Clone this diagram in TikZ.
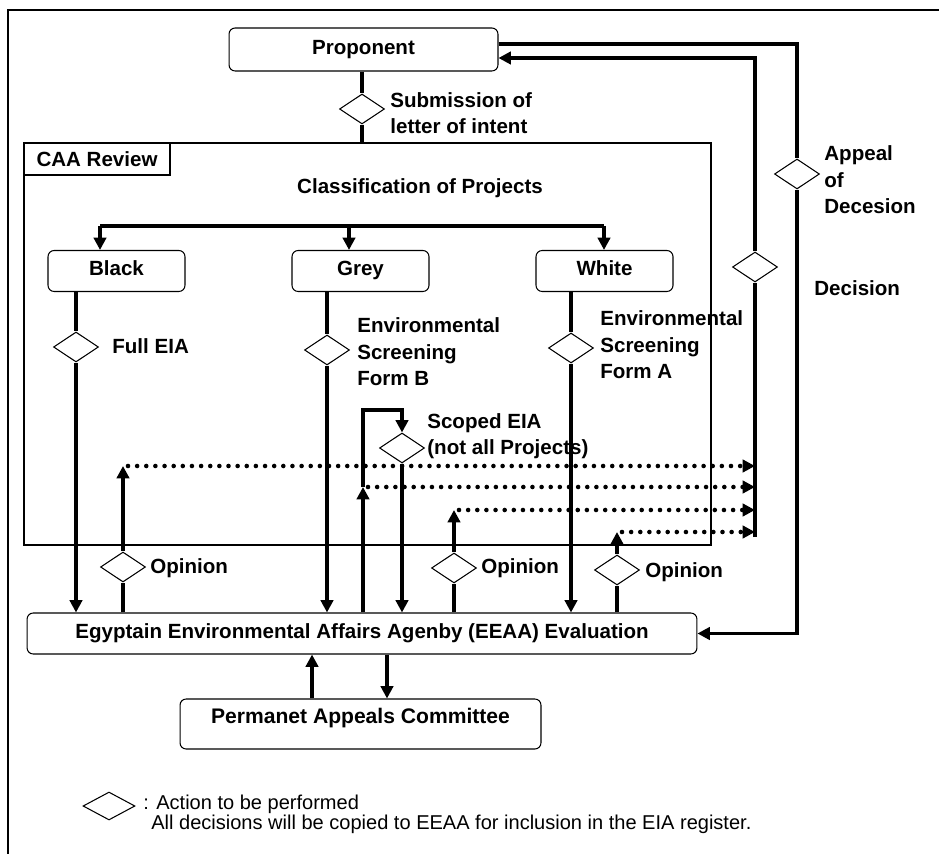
\documentclass[tikz,border=0pt]{standalone}
\usepackage{fontspec}
\setmainfont{Liberation Sans}
\usetikzlibrary{shapes.geometric,arrows.meta}
\tikzset{
  box/.style={draw,rounded corners=3.5pt,line width=0.6pt,font=\bfseries\fontsize{11.7}{15}\selectfont},
  act/.style={draw,diamond,fill=white,inner sep=0pt,minimum width=0.9cm,minimum height=0.6cm,line width=0.6pt},
  lbl/.style={anchor=west,align=left,inner sep=0pt,font=\bfseries\fontsize{11.7}{15}\selectfont},
  note/.style={anchor=west,inner sep=0pt,font=\fontsize{11.4}{13}\selectfont},
  link/.style={line width=2pt},
  flow/.style={line width=2pt,-{Triangle[length=7pt,width=7pt]}},
  dotflow/.style={line width=2.6pt,line cap=round,dash pattern=on 0pt off 5.2pt,-{Triangle[length=7pt,width=7pt]}}
}
\begin{document}
\begin{tikzpicture}[x=0.02cm,y=-0.02cm]
\useasboundingbox (0,0) rectangle (939,854);
\draw[line width=1.2pt] (8,854) -- (8,10) -- (939,10);

\node[box,minimum width=5.38cm,minimum height=0.86cm] (prop) at (363.5,49.5) {Proponent};
\node[draw,line width=1.2pt,inner sep=0pt,minimum width=13.74cm,minimum height=8.04cm] (caa) at (367.5,344) {};
\node[draw,line width=1.2pt,anchor=north west,minimum width=2.92cm,minimum height=0.64cm,
  font=\bfseries\fontsize{11.7}{15}\selectfont] (caa-tag) at (caa.north west) {CAA Review};
\node[lbl,anchor=center] (cls) at (420,188) {Classification of Projects};

\node[act] (sub) at (362,109) {};
\draw[link] (sub |- prop.south) -- (sub);
\draw[link] (sub) -- (sub |- caa.north);

\foreach \n/\t/\x in {black/Black/116.5,grey/Grey/360.5,white/White/604.5}
  \node[box,minimum width=2.74cm,minimum height=0.82cm,text height=0.3cm,text depth=0.1cm] (\n) at (\x,271) {\t};
\coordinate (bar-black) at (100,226);
\coordinate (bar-grey) at (349,226);
\coordinate (bar-white) at (604,226);
\draw[link] (bar-black) -- (bar-white);
\foreach \n in {black,grey,white}
  \draw[flow] (bar-\n) -- (bar-\n |- \n.north);

\node[box,minimum width=13.4cm,minimum height=0.82cm] (eeaa) at (362,633.5)
  {Egyptain Environmental Affairs Agenby (EEAA) Evaluation};
\node[box,minimum width=7.22cm,minimum height=1cm,text height=0.3cm,text depth=0.34cm,
  font=\bfseries\fontsize{12}{15}\selectfont] (perm) at (360.5,724) {Permanet Appeals Committee};

\node[act] (full) at (76,347) {};
\node[act] (formb) at (327,350) {};
\node[act] (forma) at (571,348) {};
\foreach \n/\m in {full/black,formb/grey,forma/white} {
  \draw[link] (\n |- \m.south) -- (\n);
  \draw[flow] (\n) -- (\n |- eeaa.north);
}

\node[act] (scope) at (402,448) {};
\coordinate (loop-top) at (363,410);
\coordinate (loop-tip) at (363,487);
\draw[flow] (loop-tip |- eeaa.north) -- (loop-tip);
\draw[flow] (loop-tip) -- (loop-top) -| (scope);
\draw[flow] (scope) -- (scope |- eeaa.north);

\foreach \n/\x/\y/\t in {1/123/567/466,2/454/568/510,3/617/570/532} {
  \node[act] (op\n) at (\x,\y) {};
  \coordinate (op\n-tip) at (\x,\t);
  \draw[link] (op\n |- eeaa.north) -- (op\n);
  \draw[flow] (op\n) -- (op\n-tip);
}

\node[act] (dec) at (755,267) {};
\coordinate (dec-top) at (755,58);
\coordinate (dec-bot) at (755,537);
\draw[link] (dec-bot) -- (dec);
\draw[flow] (dec) -- (dec-top) -- (dec-top -| prop.east);
\foreach \n in {op1-tip,loop-tip,op2-tip,op3-tip}
  \draw[dotflow] ([xshift=0.1cm]\n) -- (\n -| dec-bot);

\node[act] (app) at (797,174) {};
\coordinate (app-top) at (797,44);
\draw[link] (app-top -| prop.east) -- (app-top) -- (app);
\draw[flow] (app) |- (eeaa.east);

\coordinate (perm-up) at ([xshift=-0.97cm]perm.north);
\coordinate (perm-dn) at ([xshift=0.53cm]perm.north);
\draw[flow] (perm-up) -- (perm-up |- eeaa.south);
\draw[flow] (perm-dn |- eeaa.south) -- (perm-dn);

\node[lbl] (sub-lbl) at (390,113) {Submission of\\letter of intent};
\node[lbl] (full-lbl) at (112,346) {Full EIA};
\node[lbl] (formb-lbl) at (357,352) {Environmental\\Screening\\Form B};
\node[lbl] (forma-lbl) at (600,345) {Environmental\\Screening\\Form A};
\node[lbl] (scope-lbl) at (427,436) {Scoped EIA\\(not all Projects)};
\foreach \n/\x/\y in {1/150/568,2/481/568,3/645/572}
  \node[lbl] (op\n-lbl) at (\x,\y) {Opinion};
\node[lbl] (app-lbl) at (824,180) {Appeal\\of\\Decesion};
\node[lbl] (dec-lbl) at (814,288) {Decision};

\node[act,minimum width=1.04cm,minimum height=0.56cm] (key) at (109,806) {};
\node[note] (key-lbl) at (143,804) {: Action to be performed};
\node[note] (key-note) at (151,824) {All decisions will be copied to EEAA for inclusion in the EIA register.};
\end{tikzpicture}
\end{document}
